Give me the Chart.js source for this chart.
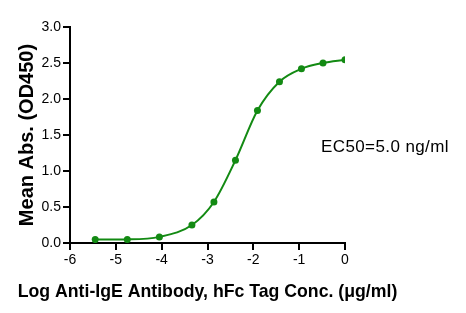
<!DOCTYPE html>
<html>
<head>
<meta charset="utf-8">
<script src="https://cdn.jsdelivr.net/npm/chart.js@4/dist/chart.umd.min.js"></script>
<style>
  html, body { margin: 0; padding: 0; background: #fff; }
  #wrap { width: 466px; height: 313px; }
</style>
</head>
<body>
<div id="wrap"><canvas id="ElisaChart" width="466" height="313"></canvas></div>
<script>
// log10 concentration (ug/ml) and mean OD450
const logConc = [-5.45, -4.75, -4.05, -3.34, -2.86, -2.39, -1.91, -1.43, -0.95, -0.48, 0];
const meanAbs = [0.047, 0.05, 0.085, 0.25, 0.57, 1.15, 1.84, 2.24, 2.42, 2.50, 2.545];
const xTicks = [-6, -5, -4, -3, -2, -1, 0];
const yTicks = [0, 0.5, 1.0, 1.5, 2.0, 2.5, 3.0];
const ec50Label = 'EC50=5.0 ng/ml';
const yTitle = 'Mean Abs. (OD450)';
const xTitle = 'Log Anti-IgE Antibody, hFc Tag Conc. (\u03bcg/ml)';

const green = '#138a13';
const fontFamily = '"Liberation Sans", Arial, sans-serif';

const points = logConc.map((x, i) => ({x: x, y: meanAbs[i]}));

// axis titles + EC50 note, drawn by hand
const textPlugin = {
  id: 'extraText',
  afterDraw(chart) {
    const ctx = chart.ctx;
    const area = chart.chartArea;
    ctx.save();
    ctx.fillStyle = '#000';
    ctx.textBaseline = 'alphabetic';

    ctx.font = '17px ' + fontFamily;
    ctx.letterSpacing = '0.4px';
    ctx.textAlign = 'left';
    ctx.fillText(ec50Label, 321, 152);

    ctx.letterSpacing = '0px';
    ctx.font = 'bold 17.7px ' + fontFamily;
    ctx.textAlign = 'center';
    ctx.fillText(xTitle, (area.left + area.right) / 2, 296.5);

    ctx.font = 'bold 20px ' + fontFamily;
    ctx.translate(32.5, (area.top + area.bottom) / 2);
    ctx.rotate(-Math.PI / 2);
    ctx.fillText(yTitle, 0, 0);
    ctx.restore();
  }
};

new Chart(document.getElementById('ElisaChart').getContext('2d'), {
  type: 'line',
  data: {
    datasets: [{
      data: points,
      borderColor: green,
      backgroundColor: green,
      borderWidth: 2,
      pointRadius: 3.5,
      pointHoverRadius: 3.5,
      pointBackgroundColor: green,
      pointBorderWidth: 0,
      cubicInterpolationMode: 'monotone',
      fill: false
    }]
  },
  options: {
    responsive: false,
    animation: false,
    layout: { padding: { left: 0, top: 27, right: 121, bottom: 0 } },
    plugins: { legend: { display: false }, tooltip: { enabled: false } },
    scales: {
      x: {
        type: 'linear',
        min: -6,
        max: 0,
        afterBuildTicks: s => { s.ticks = xTicks.map(v => ({value: v})); },
        afterFit: s => { s.height = 70; },
        ticks: {
          color: '#000',
          font: { family: fontFamily, size: 14 },
          padding: 2,
          maxRotation: 0,
          callback: v => String(v)
        },
        grid: { drawOnChartArea: false, drawTicks: true, tickLength: 7, color: '#000', lineWidth: 2 },
        border: { color: '#000', width: 2 }
      },
      y: {
        min: 0,
        max: 3,
        afterBuildTicks: s => { s.ticks = yTicks.map(v => ({value: v})); },
        afterFit: s => { s.width = 70; },
        ticks: {
          color: '#000',
          font: { family: fontFamily, size: 14 },
          padding: 2,
          callback: v => v.toFixed(1)
        },
        grid: { drawOnChartArea: false, drawTicks: true, tickLength: 7, color: '#000', lineWidth: 2 },
        border: { color: '#000', width: 2 }
      }
    }
  },
  plugins: [textPlugin]
});
</script>
</body>
</html>
